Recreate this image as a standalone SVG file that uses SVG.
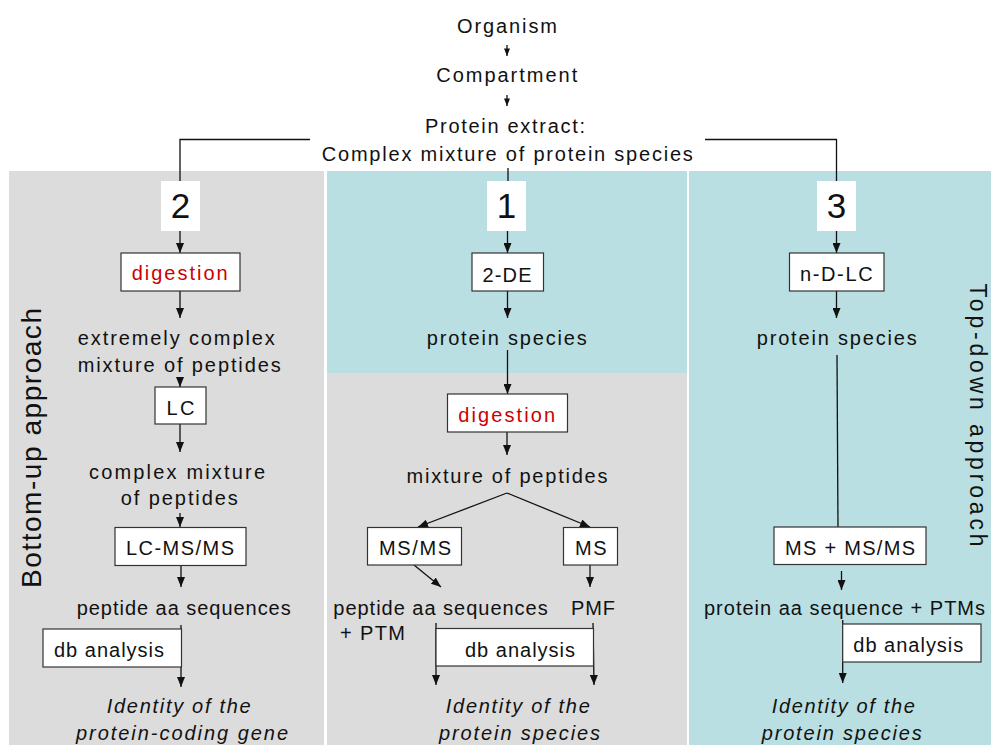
<svg xmlns="http://www.w3.org/2000/svg" width="991" height="745" viewBox="0 0 991 745">
<style>
.t{font-family:"Liberation Sans",Arial,sans-serif;font-size:20px;fill:#111;text-anchor:middle}
.s{text-anchor:start}
.red{fill:#cc0000}
.it{font-style:italic}
.num{font-size:35px}
.box{fill:#fff;stroke:#333;stroke-width:1.2}
.nb{fill:#fff}
.ln{stroke:#111;stroke-width:1.3;fill:none}
.ar{marker-end:url(#ah)}
.ars{marker-end:url(#ahs)}
</style>
<defs>
<marker id="ah" viewBox="0 0 10 8" refX="10" refY="4" markerWidth="10" markerHeight="8" markerUnits="userSpaceOnUse" orient="auto"><path d="M0,0L10,4L0,8z" fill="#111"/></marker>
<marker id="ahs" viewBox="0 0 10 8" refX="10" refY="4" markerWidth="8" markerHeight="6" markerUnits="userSpaceOnUse" orient="auto"><path d="M0,0L10,4L0,8z" fill="#111"/></marker>
</defs>
<g id="panels">
<rect x="9" y="171" width="315" height="574" fill="#dcdcdc"/>
<rect x="327" y="171" width="360" height="202" fill="#b9dfe2"/>
<rect x="327" y="373" width="360" height="372" fill="#dcdcdc"/>
<rect x="689" y="171" width="302" height="574" fill="#b9dfe2"/>
</g>
<g id="connectors">
<line class="ln ars" x1="507" y1="45" x2="507" y2="56"/>
<line class="ln ars" x1="507" y1="95" x2="507" y2="106"/>
<polyline class="ln" points="310,139.5 180,139.5 180,181"/>
<polyline class="ln" points="705,139.5 836.5,139.5 836.5,181"/>
<line class="ln" x1="508" y1="168" x2="508" y2="181"/>
<line class="ln ar" x1="180" y1="231" x2="180" y2="253"/>
<line class="ln ar" x1="507.5" y1="231" x2="507.5" y2="253"/>
<line class="ln ar" x1="836.5" y1="231" x2="836.5" y2="253"/>
<line class="ln ar" x1="180" y1="291" x2="180" y2="318"/>
<line class="ln ar" x1="180" y1="377" x2="180" y2="387"/>
<line class="ln ar" x1="180" y1="424" x2="180" y2="452"/>
<line class="ln ar" x1="180" y1="513" x2="180" y2="527"/>
<line class="ln ar" x1="181" y1="565" x2="181" y2="587"/>
<line class="ln ar" x1="181" y1="625" x2="181" y2="687"/>
<line class="ln ar" x1="507.5" y1="291" x2="507.5" y2="318"/>
<line class="ln ar" x1="507.5" y1="350" x2="507.5" y2="394"/>
<line class="ln ar" x1="507" y1="432" x2="507" y2="455"/>
<line class="ln ar" x1="507" y1="493" x2="418" y2="527"/>
<line class="ln ar" x1="507" y1="493" x2="590" y2="527"/>
<line class="ln ar" x1="414" y1="565" x2="441" y2="587"/>
<line class="ln ar" x1="590" y1="565" x2="590" y2="587"/>
<line class="ln ar" x1="436" y1="623" x2="436" y2="685"/>
<line class="ln ar" x1="593" y1="623" x2="594" y2="685"/>
<line class="ln ar" x1="836.5" y1="291" x2="836.5" y2="318"/>
<line class="ln" x1="837" y1="355" x2="838" y2="527"/>
<line class="ln ar" x1="841.5" y1="571" x2="841.5" y2="590"/>
<line class="ln ar" x1="842.7" y1="620" x2="842.7" y2="683"/>
</g>
<g id="top">
<text class="t" x="507" y="32.5" textLength="100" lengthAdjust="spacing">Organism</text>
<text class="t" x="506.7" y="82" textLength="141" lengthAdjust="spacing">Compartment</text>
<text class="t" x="505" y="133" textLength="160" lengthAdjust="spacing">Protein extract:</text>
<text class="t" x="507.3" y="161" textLength="371" lengthAdjust="spacing">Complex mixture of protein species</text>
</g>
<g id="n2"><rect class="nb" x="161" y="181" width="39" height="50"/><text class="t num" x="180.5" y="218">2</text></g>
<g id="n1"><rect class="nb" x="487" y="181" width="39" height="50"/><text class="t num" x="506.5" y="218">1</text></g>
<g id="n3"><rect class="nb" x="817" y="181" width="39" height="50"/><text class="t num" x="836.5" y="218">3</text></g>
<g id="bottomup">
<text class="t" x="40.5" y="448" transform="rotate(-90 40.5 448)" style="font-size:28px" textLength="280" lengthAdjust="spacing">Bottom-up approach</text>
</g>
<g id="topdown">
<text class="t" x="970" y="415" transform="rotate(90 970 415)" style="font-size:23px" textLength="263" lengthAdjust="spacing">Top-down approach</text>
</g>
<g id="l-digestion"><rect class="box" x="121" y="253" width="119" height="38"/><text class="t red" x="179.7" y="280" textLength="96" lengthAdjust="spacing">digestion</text></g>
<g id="l-extreme"><text class="t" x="176.3" y="345" textLength="197" lengthAdjust="spacing">extremely complex</text><text class="t" x="179.2" y="371.7" textLength="203" lengthAdjust="spacing">mixture of peptides</text></g>
<g id="l-lc"><rect class="box" x="155" y="387" width="51" height="37"/><text class="t" x="180.5" y="415" textLength="28" lengthAdjust="spacing">LC</text></g>
<g id="l-complex"><text class="t" x="177" y="479" textLength="176" lengthAdjust="spacing">complex mixture</text><text class="t" x="179.3" y="504.5" textLength="117" lengthAdjust="spacing">of peptides</text></g>
<g id="l-lcmsms"><rect class="box" x="115" y="527.5" width="131" height="38"/><text class="t" x="180" y="555" textLength="108" lengthAdjust="spacing">LC-MS/MS</text></g>
<g id="l-pepseq"><text class="t" x="183.7" y="615" textLength="214" lengthAdjust="spacing">peptide aa sequences</text></g>
<g id="l-db"><rect class="box" x="43" y="629" width="138.5" height="38"/><text class="t s" x="54" y="657" textLength="110" lengthAdjust="spacing">db analysis</text></g>
<g id="l-identity"><text class="t it" x="178.7" y="713" textLength="144" lengthAdjust="spacing">Identity of the</text><text class="t it" x="182" y="740" textLength="212" lengthAdjust="spacing">protein-coding gene</text></g>
<g id="m-2de"><rect class="box" x="472" y="253" width="71.5" height="38"/><text class="t" x="507" y="281.7" textLength="49" lengthAdjust="spacing">2-DE</text></g>
<g id="m-species"><text class="t" x="506.7" y="345" textLength="160" lengthAdjust="spacing">protein species</text></g>
<g id="m-digestion"><rect class="box" x="447.5" y="394" width="120" height="38"/><text class="t red" x="506.7" y="421.7" textLength="96.7" lengthAdjust="spacing">digestion</text></g>
<g id="m-mixture"><text class="t" x="507" y="483.3" textLength="201" lengthAdjust="spacing">mixture of peptides</text></g>
<g id="m-msms"><rect class="box" x="367.5" y="527.5" width="94" height="37.5"/><text class="t" x="415" y="555" textLength="72" lengthAdjust="spacing">MS/MS</text></g>
<g id="m-ms"><rect class="box" x="563.5" y="527.5" width="54" height="37.5"/><text class="t" x="590.8" y="555" textLength="31.7" lengthAdjust="spacing">MS</text></g>
<g id="m-pepseq"><text class="t" x="440.5" y="615" textLength="214.4" lengthAdjust="spacing">peptide aa sequences</text><text class="t s" x="340" y="640" textLength="65" lengthAdjust="spacing">+ PTM</text></g>
<g id="m-pmf"><text class="t" x="593" y="615" textLength="44" lengthAdjust="spacing">PMF</text></g>
<g id="m-db"><rect class="box" x="436" y="628.5" width="157.5" height="37.5"/><text class="t s" x="465" y="657" textLength="110" lengthAdjust="spacing">db analysis</text></g>
<g id="m-identity"><text class="t it" x="517.8" y="713" textLength="144" lengthAdjust="spacing">Identity of the</text><text class="t it" x="519.5" y="740" textLength="161" lengthAdjust="spacing">protein species</text></g>
<g id="r-ndlc"><rect class="box" x="789.5" y="253" width="94.5" height="38"/><text class="t" x="836.3" y="280.7" textLength="72.7" lengthAdjust="spacing">n-D-LC</text></g>
<g id="r-species"><text class="t" x="836.7" y="345" textLength="160" lengthAdjust="spacing">protein species</text></g>
<g id="r-msms"><rect class="box" x="774" y="527" width="152" height="37.5"/><text class="t" x="850" y="555" textLength="130" lengthAdjust="spacing">MS + MS/MS</text></g>
<g id="r-seq"><text class="t" x="844.5" y="615" textLength="281" lengthAdjust="spacing">protein aa sequence + PTMs</text></g>
<g id="r-db"><rect class="box" x="842.7" y="624" width="138.3" height="38"/><text class="t s" x="853.3" y="652" textLength="110" lengthAdjust="spacing">db analysis</text></g>
<g id="r-identity"><text class="t it" x="843.3" y="713" textLength="143" lengthAdjust="spacing">Identity of the</text><text class="t it" x="841.7" y="740" textLength="160" lengthAdjust="spacing">protein species</text></g>
</svg>
